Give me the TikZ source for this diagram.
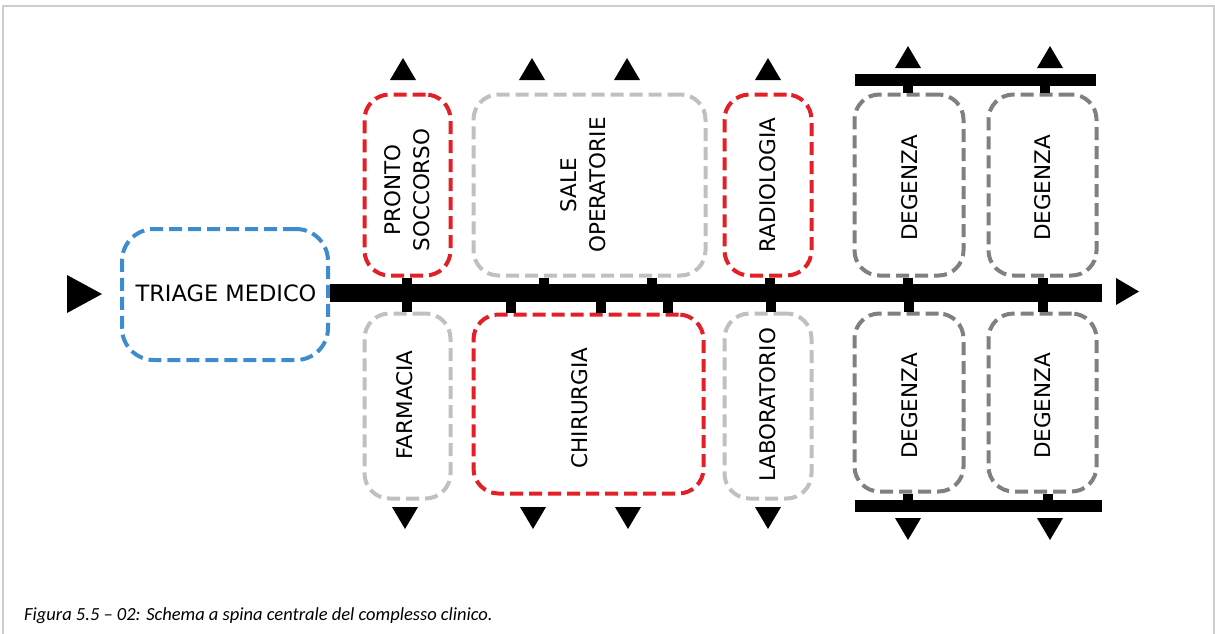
\documentclass[tikz,border=0pt]{standalone}
\usepackage{fontspec}
\setmainfont{DejaVu Sans}
\newfontfamily\capfont{Carlito}
\definecolor{tblue}{RGB}{62,140,205}
\definecolor{tred}{RGB}{226,32,40}
\definecolor{lgray}{RGB}{192,192,192}
\definecolor{dgray}{RGB}{128,128,128}
\definecolor{framegray}{RGB}{205,205,205}
\begin{document}
\begin{tikzpicture}[x=1pt,y=-1pt,
  box/.style={draw, line width=4pt, dash pattern=on 13pt off 6pt, rounded corners=25pt, inner sep=0pt},
  lbl/.style={font=\fontsize{21.5}{29}\selectfont, rotate=90, align=center, inner sep=0pt},
  hlbl/.style={font=\fontsize{22.5}{29}\selectfont, inner sep=0pt},
  barbox/.style={fill=black, inner sep=0pt, draw=none},
  stub/.style={draw=black, line width=10pt},
  uptri/.pic={\fill[black] (-13,0) -- (13,0) -- (0,-22) -- cycle;},
  dntri/.pic={\fill[black] (-13,0) -- (13,0) -- (0,22) -- cycle;}
]
\useasboundingbox (0,0) rectangle (1215,633);
% frame
\draw[framegray, line width=1.5pt] (3,640) -- (3,6) -- (1214,6) -- (1214,640);

% boxes
\node[box, draw=tblue, rounded corners=32pt, minimum width=206pt, minimum height=131pt] (triage) at (225,294.5) {};
\node[hlbl] (ttriage) at (226,293) {TRIAGE MEDICO};

\node[box, draw=tred, minimum width=86pt, minimum height=181pt] (pronto) at (407.5,185) {};
\node[box, draw=lgray, minimum width=232pt, minimum height=181pt] (sale) at (589.5,185) {};
\node[box, draw=tred, minimum width=87pt, minimum height=181pt] (radio) at (768,185) {};
\node[box, draw=dgray, minimum width=109pt, minimum height=181pt] (degA) at (909,185) {};
\node[box, draw=dgray, minimum width=108pt, minimum height=181pt] (degB) at (1042.5,185) {};

\node[box, draw=lgray, minimum width=86pt, minimum height=185pt] (farm) at (407.5,406) {};
\node[box, draw=tred, minimum width=230pt, minimum height=179pt] (chir) at (588.5,404) {};
\node[box, draw=lgray, minimum width=87pt, minimum height=185pt] (lab) at (768,406) {};
\node[box, draw=dgray, minimum width=109pt, minimum height=178pt] (degC) at (909,402.5) {};
\node[box, draw=dgray, minimum width=108pt, minimum height=178pt] (degD) at (1042.5,402.5) {};

% labels
\node[lbl] (tpronto) at (407.5,190) {PRONTO\\SOCCORSO};
\node[lbl] (tsale) at (583,185) {SALE\\OPERATORIE};
\node[lbl] (tradio) at (768,185) {RADIOLOGIA};
\node[lbl] (tdegA) at (910,188) {DEGENZA};
\node[lbl] (tdegB) at (1043,188) {DEGENZA};
\node[lbl] (tfarm) at (405,405) {FARMACIA};
\node[lbl] (tchir) at (580,408) {CHIRURGIA};
\node[lbl] (tlab) at (768,405) {LABORATORIO};
\node[lbl] (tdegC) at (910,406) {DEGENZA};
\node[lbl] (tdegD) at (1043,406) {DEGENZA};

% spine and bars
\node[barbox, minimum width=772pt, minimum height=18pt] (spine) at (716,293) {};
\node[barbox, minimum width=241pt, minimum height=12pt] (topbar) at (975.5,80) {};
\node[barbox, minimum width=247pt, minimum height=12pt] (botbar) at (978.5,506) {};

% stubs to spine, upper boxes
\foreach \b/\x in {pronto/407, sale/544, sale/652, radio/770, degA/908, degB/1043}{
  \coordinate (k) at (\x,0);
  \draw[stub] (\b.south -| k) -- (spine.north -| k);
}
% stubs to spine, lower boxes
\foreach \b/\x in {farm/407, chir/511, chir/601, chir/668, lab/771, degC/909, degD/1043}{
  \coordinate (k) at (\x,0);
  \draw[stub] (\b.north -| k) -- (spine.south -| k);
}
% stubs to bars
\foreach \b/\x in {degA/908, degB/1045}{
  \coordinate (k) at (\x,0);
  \draw[stub] (\b.north -| k) -- (topbar.south -| k);
}
\foreach \b/\x in {degC/908, degD/1048}{
  \coordinate (k) at (\x,0);
  \draw[stub] (\b.south -| k) -- (botbar.north -| k);
}

% arrow heads
\foreach \x in {403,532,627,768}{ \pic at (\x,80) {uptri}; }
\foreach \x in {908,1050}{ \pic at (\x,68) {uptri}; }
\foreach \x in {405,533,628,768}{ \pic at (\x,507) {dntri}; }
\foreach \x in {908,1050}{ \pic at (\x,518) {dntri}; }
\fill[black] (67,275) -- (102,294) -- (67,313) -- cycle;
\fill[black] (1116,278) -- (1139,291.5) -- (1116,305) -- cycle;

% caption
\node[anchor=west, inner sep=0pt, font=\capfont\itshape\fontsize{18.5}{22}\selectfont] (cap) at (24,616) {Figura 5.5 – 02: Schema a spina centrale del complesso clinico.};
\end{tikzpicture}
\end{document}
